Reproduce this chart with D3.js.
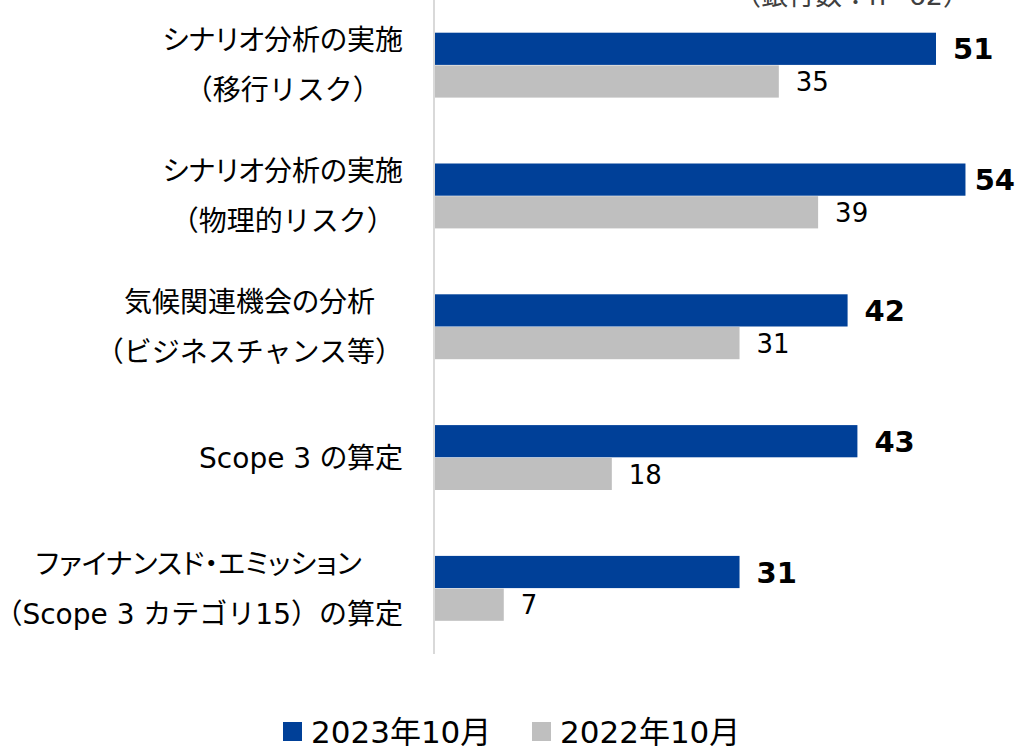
<html>
<head>
<meta charset="utf-8">
<script src="https://d3js.org/d3.v7.min.js"></script>
<style>
  body { margin: 0; background: #fff; }
  text { font-family: "DejaVu Sans", "Noto Sans CJK JP", sans-serif; }
  text.narrow { font-feature-settings: "palt"; }
</style>
</head>
<body>
<div id="chart"></div>
<script>
// categories (label lines for each)
const categories = ["scenarioTransition", "scenarioPhysical", "opportunity", "scope3", "financed"];
const labelLines = [
  ["シナリオ分析の実施", "（移行リスク）"],
  ["シナリオ分析の実施", "（物理的リスク）"],
  ["気候関連機会の分析", "（ビジネスチャンス等）"],
  ["Scope 3 の算定"],
  ["ファイナンスド・エミッション", "（Scope 3 カテゴリ15）の算定"]
];
const values2023 = [51, 54, 42, 43, 31];
const values2022 = [35, 39, 31, 18, 7];
const seriesNames = ["2023年10月", "2022年10月"];
const note = "（銀行数：n=62）";

const colors = ["#004098", "#bfbfbf"];

const width = 1019, height = 746;
const svg = d3.select("#chart").append("svg")
  .attr("width", width)
  .attr("height", height);

const x0 = 435;
const x = d3.scaleLinear().domain([0, 51]).range([x0, 936]);
const y = d3.scaleBand().domain(categories).range([0, 654]).paddingInner(0.5).paddingOuter(0.25);
const ySub = d3.scaleBand().domain([0, 1]).range([0, y.bandwidth()]);

// vertical axis line
svg.append("line")
  .attr("x1", x0 - 1).attr("x2", x0 - 1)
  .attr("y1", 0).attr("y2", 654)
  .attr("stroke", "#d9d9d9").attr("stroke-width", 2);

const rows = categories.map((c, i) => ({ cat: c, vals: [values2023[i], values2022[i]], lines: labelLines[i] }));

const g = svg.selectAll("g.row").data(rows).join("g")
  .attr("class", "row")
  .attr("transform", d => "translate(0," + y(d.cat) + ")");

g.selectAll("rect").data(d => d.vals).join("rect")
  .attr("x", x0)
  .attr("y", (d, i) => ySub(i))
  .attr("width", d => x(d) - x0)
  .attr("height", ySub.bandwidth() - 0.5)
  .attr("fill", (d, i) => colors[i]);

g.selectAll("text.val").data(d => d.vals).join("text")
  .attr("class", "val")
  .attr("x", d => x(d) + 17)
  .attr("y", (d, i) => ySub(i) + ySub.bandwidth() / 2)
  .attr("dy", "0.36em")
  .attr("font-size", (d, i) => i === 0 ? 29 : 26)
  .attr("font-weight", (d, i) => i === 0 ? "bold" : "normal")
  .attr("fill", "#000")
  .text(d => d)
  .each(function () {
    // keep labels inside the right edge
    const b = this.getBBox();
    if (b.x + b.width > 1015) d3.select(this).attr("x", 1015 - b.width);
  });

// category labels: block right-aligned, lines centered
g.each(function (d) {
  const mid = y.bandwidth() / 2;
  const n = d.lines.length;
  const t = d3.select(this).selectAll("text.cat").data(d.lines).join("text")
    .attr("class", s => s.includes("（") ? "cat" : "cat narrow")
    .attr("y", (s, j) => mid + (j - (n - 1) / 2) * 50)
    .attr("dy", "0.36em")
    .attr("text-anchor", "middle")
    .attr("font-size", 28)
    .attr("fill", "#000")
    .text(s => s);
  const maxW = d3.max(t.nodes(), nd => nd.getComputedTextLength());
  t.attr("x", 403 - maxW / 2);
});

// note at top (partly cut off)
svg.append("text")
  .attr("x", 970).attr("y", 5)
  .attr("text-anchor", "end")
  .attr("font-size", 27)
  .attr("fill", "#404040")
  .text(note);

// legend
const legendX = [283, 532];
const lg = svg.selectAll("g.legend").data(seriesNames).join("g")
  .attr("class", "legend")
  .attr("transform", (d, i) => "translate(" + legendX[i] + ",722)");
lg.append("rect")
  .attr("width", 19).attr("height", 19)
  .attr("fill", (d, i) => colors[i]);
lg.append("text")
  .attr("x", 28).attr("y", 10)
  .attr("dy", "0.36em")
  .attr("font-size", 31)
  .attr("fill", "#000")
  .text(d => d);
</script>
</body>
</html>
